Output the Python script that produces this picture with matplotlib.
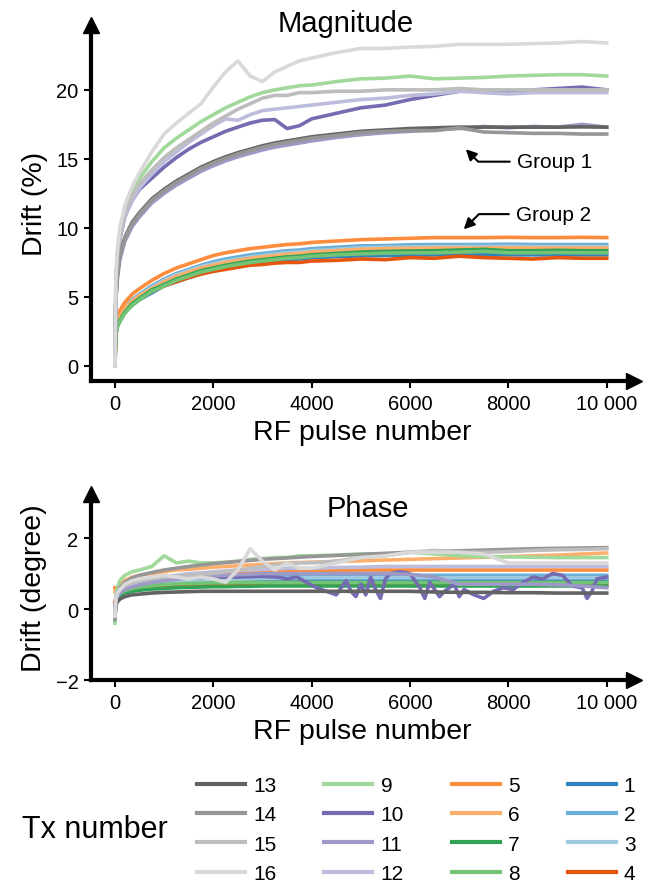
import matplotlib
matplotlib.use("Agg")
import matplotlib.pyplot as plt

plt.rcParams['font.family'] = ['Liberation Sans', 'DejaVu Sans']

pulse = [0, 20, 50, 100, 200, 350, 500, 750, 1000, 1250, 1500, 1750, 2000, 2250, 2500, 2750,
         3000, 3250, 3500, 3750, 4000, 4500, 5000, 5500, 6000, 6500, 7000, 7500, 8000, 8500,
         9000, 9500, 10000]

# magnitude drift (%)
mag_1 = [0, 2.3, 2.9, 3.3, 3.9, 4.4, 4.8, 5.3, 5.8, 6.1, 6.4, 6.7, 6.9, 7.1, 7.25, 7.4, 7.5, 7.6, 7.7,
         7.75, 7.85, 7.92, 7.98, 8.0, 8.02, 8.05, 8.05, 8.05, 8.05, 8.05, 8.05, 8.05, 8.05]
mag_2 = [0, 2.6, 3.2, 3.6, 4.2, 4.8, 5.2, 5.8, 6.3, 6.7, 7.0, 7.3, 7.55, 7.75, 7.9, 8.05, 8.15, 8.25,
         8.35, 8.4, 8.5, 8.6, 8.7, 8.72, 8.78, 8.8, 8.8, 8.8, 8.82, 8.8, 8.8, 8.8, 8.8]
mag_3 = [0, 2.5, 3.1, 3.5, 4.1, 4.7, 5.1, 5.7, 6.2, 6.6, 6.9, 7.2, 7.4, 7.6, 7.75, 7.9, 8.0, 8.1, 8.2,
         8.25, 8.35, 8.45, 8.55, 8.6, 8.62, 8.65, 8.65, 8.65, 8.67, 8.65, 8.65, 8.65, 8.65]
mag_4 = [0, 2.4, 3.0, 3.4, 4.0, 4.5, 4.9, 5.4, 5.8, 6.1, 6.4, 6.65, 6.85, 7.0, 7.15, 7.3, 7.35, 7.45,
         7.5, 7.5, 7.6, 7.65, 7.75, 7.7, 7.85, 7.8, 7.95, 7.85, 7.8, 7.75, 7.85, 7.8, 7.8]
mag_5 = [0, 2.9, 3.5, 4.0, 4.6, 5.2, 5.6, 6.2, 6.7, 7.1, 7.4, 7.7, 8.0, 8.2, 8.35, 8.5, 8.6, 8.7, 8.8,
         8.85, 8.95, 9.05, 9.15, 9.2, 9.25, 9.3, 9.3, 9.3, 9.32, 9.3, 9.3, 9.32, 9.3]
mag_6 = [0, 2.6, 3.2, 3.6, 4.2, 4.7, 5.1, 5.6, 6.1, 6.5, 6.8, 7.1, 7.3, 7.5, 7.65, 7.8, 7.9, 8.0, 8.1,
         8.15, 8.25, 8.35, 8.45, 8.5, 8.52, 8.55, 8.55, 8.55, 8.57, 8.55, 8.55, 8.55, 8.55]
mag_7 = [0, 2.3, 2.9, 3.3, 3.9, 4.5, 4.9, 5.5, 5.9, 6.3, 6.6, 6.9, 7.1, 7.3, 7.45, 7.6, 7.7, 7.8, 7.9,
         7.95, 8.05, 8.15, 8.25, 8.3, 8.33, 8.35, 8.4, 8.45, 8.35, 8.35, 8.38, 8.35, 8.35]
mag_8 = [0, 2.2, 2.8, 3.2, 3.8, 4.4, 4.8, 5.4, 5.8, 6.2, 6.5, 6.8, 7.0, 7.2, 7.35, 7.5, 7.6, 7.7, 7.8,
         7.85, 7.95, 8.05, 8.12, 8.17, 8.2, 8.2, 8.25, 8.3, 8.2, 8.2, 8.22, 8.2, 8.2]
mag_9 = [0, 6.2, 8.2, 9.6, 11.2, 12.6, 13.6, 14.8, 15.8, 16.5, 17.1, 17.7, 18.2, 18.7, 19.1, 19.5,
         19.8, 20.0, 20.15, 20.3, 20.35, 20.6, 20.8, 20.85, 21.0, 20.8, 20.85, 20.9, 21.0, 21.05, 21.1,
         21.1, 21.0]
mag_10 = [0, 5.8, 7.8, 9.2, 10.8, 12.0, 12.8, 13.6, 14.4, 15.1, 15.7, 16.2, 16.6, 17.0, 17.3, 17.6,
          17.8, 17.85, 17.2, 17.4, 17.9, 18.3, 18.7, 18.9, 19.3, 19.6, 19.9, 19.9, 19.9, 20.0, 20.1,
          20.2, 20.0]
mag_11 = [0, 4.8, 6.3, 7.7, 9.0, 10.1, 10.8, 11.8, 12.5, 13.1, 13.6, 14.1, 14.5, 14.85, 15.15, 15.4,
          15.65, 15.85, 16.0, 16.15, 16.3, 16.55, 16.75, 16.9, 17.0, 17.1, 17.2, 17.35, 17.25, 17.35,
          17.3, 17.5, 17.3]
mag_12 = [0, 5.8, 7.8, 9.2, 10.8, 12.0, 12.9, 13.9, 14.8, 15.5, 16.2, 16.8, 17.4, 17.9, 17.8, 18.2,
          18.5, 18.6, 18.7, 18.8, 18.9, 19.1, 19.3, 19.4, 19.6, 19.7, 19.9, 19.8, 19.7, 19.8, 19.8,
          19.8, 19.8]
mag_13 = [0, 5.0, 6.6, 8.0, 9.3, 10.4, 11.1, 12.1, 12.8, 13.4, 13.9, 14.4, 14.8, 15.15, 15.45, 15.7,
          15.95, 16.15, 16.3, 16.45, 16.6, 16.8, 17.0, 17.1, 17.2, 17.25, 17.3, 17.3, 17.3, 17.3, 17.3,
          17.32, 17.3]
mag_14 = [0, 5.0, 6.5, 7.9, 9.2, 10.3, 11.0, 12.0, 12.7, 13.3, 13.8, 14.3, 14.7, 15.05, 15.35, 15.6,
          15.85, 16.05, 16.2, 16.35, 16.5, 16.7, 16.9, 17.0, 17.05, 17.05, 17.25, 16.95, 16.9, 16.85,
          16.85, 16.8, 16.8]
mag_15 = [0, 6.0, 8.0, 9.4, 11.0, 12.3, 13.2, 14.2, 15.1, 15.8, 16.4, 17.0, 17.6, 18.1, 18.6, 19.0,
          19.4, 19.6, 19.6, 19.8, 19.8, 19.9, 19.9, 20.0, 20.0, 20.0, 20.1, 20.0, 20.0, 20.0, 20.0,
          20.0, 20.0]
mag_16 = [0, 6.5, 8.5, 10.0, 11.6, 13.0, 14.0, 15.5, 16.8, 17.6, 18.3, 19.0, 20.2, 21.3, 22.1, 21.0,
          20.6, 21.3, 21.7, 22.1, 22.3, 22.7, 23.0, 23.0, 23.1, 23.15, 23.3, 23.3, 23.3, 23.35, 23.4,
          23.5, 23.4]

# phase drift (degree)
ph_1 = [-0.1, 0.3, 0.4, 0.45, 0.52, 0.58, 0.62, 0.66, 0.7, 0.72, 0.74, 0.75, 0.76, 0.77, 0.78, 0.78,
        0.79, 0.79, 0.8, 0.8, 0.8, 0.8, 0.8, 0.8, 0.8, 0.8, 0.8, 0.8, 0.8, 0.8, 0.8, 0.8, 0.8]
ph_2 = [-0.1, 0.3, 0.42, 0.5, 0.58, 0.65, 0.7, 0.75, 0.8, 0.83, 0.85, 0.87, 0.88, 0.89, 0.9, 0.91,
        0.92, 0.92, 0.93, 0.93, 0.94, 0.94, 0.95, 0.95, 0.95, 0.95, 0.95, 0.95, 0.95, 0.95, 0.95, 0.95,
        0.95]
ph_3 = [-0.1, 0.3, 0.4, 0.48, 0.55, 0.62, 0.66, 0.7, 0.74, 0.76, 0.78, 0.8, 0.82, 0.83, 0.84, 0.85,
        0.86, 0.86, 0.87, 0.87, 0.88, 0.88, 0.88, 0.88, 0.88, 0.88, 0.88, 0.88, 0.88, 0.88, 0.88, 0.88,
        0.88]
ph_4 = [0.2, 0.3, 0.4, 0.5, 0.55, 0.6, 0.62, 0.65, 0.67, 0.68, 0.69, 0.7, 0.7, 0.7, 0.7, 0.7, 0.7, 0.7,
        0.7, 0.7, 0.7, 0.7, 0.7, 0.7, 0.7, 0.7, 0.7, 0.7, 0.7, 0.7, 0.7, 0.7, 0.7]
ph_5 = [0.6, 0.5, 0.55, 0.6, 0.65, 0.7, 0.75, 0.8, 0.85, 0.88, 0.9, 0.93, 0.95, 0.97, 1.0, 1.02, 1.03,
        1.05, 1.06, 1.07, 1.08, 1.09, 1.1, 1.1, 1.1, 1.1, 1.1, 1.1, 1.1, 1.1, 1.1, 1.1, 1.1]
ph_6 = [0.5, 0.5, 0.6, 0.7, 0.8, 0.9, 0.95, 1.0, 1.05, 1.1, 1.12, 1.15, 1.18, 1.2, 1.22, 1.24, 1.26,
        1.28, 1.3, 1.31, 1.32, 1.34, 1.36, 1.38, 1.4, 1.42, 1.44, 1.46, 1.48, 1.5, 1.52, 1.55, 1.58]
ph_7 = [-0.2, 0.2, 0.3, 0.38, 0.45, 0.5, 0.53, 0.56, 0.58, 0.6, 0.61, 0.62, 0.63, 0.63, 0.64, 0.64,
        0.65, 0.65, 0.65, 0.65, 0.65, 0.65, 0.65, 0.65, 0.65, 0.65, 0.65, 0.65, 0.65, 0.65, 0.65, 0.65,
        0.65]
ph_8 = [-0.3, 0.25, 0.35, 0.45, 0.52, 0.58, 0.62, 0.66, 0.69, 0.71, 0.72, 0.73, 0.74, 0.74, 0.75, 0.75,
        0.75, 0.75, 0.75, 0.75, 0.75, 0.75, 0.75, 0.75, 0.75, 0.75, 0.75, 0.75, 0.75, 0.75, 0.75, 0.75,
        0.75]
ph_9 = [-0.4, 0.4, 0.6, 0.8, 0.95, 1.05, 1.1, 1.2, 1.5, 1.3, 1.35, 1.3, 1.3, 1.32, 1.35, 1.4, 1.42,
        1.45, 1.45, 1.5, 1.5, 1.52, 1.55, 1.55, 1.6, 1.55, 1.5, 1.48, 1.47, 1.46, 1.45, 1.45, 1.45]
ph_11 = [-0.2, 0.2, 0.35, 0.45, 0.55, 0.62, 0.68, 0.75, 0.8, 0.84, 0.88, 0.9, 0.93, 0.95, 0.97, 0.98,
         1.0, 1.0, 1.0, 1.0, 1.0, 1.0, 1.0, 1.0, 0.98, 0.9, 0.7, 0.7, 0.7, 0.7, 0.68, 0.65, 0.6]
ph_12 = [-0.1, 0.3, 0.45, 0.55, 0.65, 0.72, 0.78, 0.85, 0.9, 0.95, 1.0, 1.02, 1.05, 1.08, 1.1, 1.1,
         1.12, 1.13, 1.15, 1.15, 1.15, 1.17, 1.18, 1.2, 1.2, 1.2, 1.2, 1.2, 1.2, 1.2, 1.2, 1.2, 1.2]
ph_13 = [-0.2, 0.1, 0.2, 0.28, 0.35, 0.4, 0.42, 0.45, 0.47, 0.48, 0.49, 0.5, 0.5, 0.5, 0.5, 0.5, 0.5,
         0.5, 0.5, 0.5, 0.5, 0.5, 0.5, 0.5, 0.5, 0.48, 0.47, 0.47, 0.46, 0.46, 0.45, 0.45, 0.45]
ph_14 = [-0.3, 0.3, 0.45, 0.6, 0.75, 0.88, 0.95, 1.03, 1.1, 1.15, 1.2, 1.24, 1.28, 1.31, 1.34, 1.37,
         1.4, 1.42, 1.44, 1.46, 1.48, 1.51, 1.54, 1.57, 1.6, 1.62, 1.64, 1.66, 1.68, 1.7, 1.71, 1.72,
         1.73]
ph_15 = [-0.2, 0.3, 0.45, 0.55, 0.65, 0.75, 0.8, 0.85, 0.9, 0.92, 0.95, 0.98, 1.0, 1.05, 1.1, 1.15,
         1.2, 1.25, 1.28, 1.3, 1.3, 1.35, 1.45, 1.5, 1.6, 1.65, 1.6, 1.6, 1.62, 1.65, 1.67, 1.68, 1.7]
ph_16 = [-0.2, 0.3, 0.45, 0.55, 0.7, 0.8, 0.85, 0.9, 0.95, 0.9, 0.85, 0.9, 0.85, 0.75, 1.1, 1.7, 1.35,
         1.1, 1.3, 1.15, 1.15, 1.3, 1.45, 1.5, 1.6, 1.6, 1.6, 1.55, 1.3, 1.3, 1.3, 1.3, 1.3]
# Tx 10 phase is much noisier, read on its own grid
pulse_ph10 = [0, 20, 50, 100, 200, 500, 1000, 1500, 2000, 2500, 3000, 3300, 3500, 3700, 3900, 4100,
              4300, 4500, 4700, 4800, 4900, 5000, 5100, 5200, 5300, 5400, 5500, 5600, 5800, 6000,
              6200, 6300, 6400, 6500, 6600, 6700, 6900, 7000, 7100, 7300, 7500, 7700, 7900, 8100,
              8300, 8500, 8700, 8900, 9100, 9300, 9500, 9600, 9700, 9800, 10000]
ph_10 = [-0.2, 0.3, 0.45, 0.55, 0.65, 0.75, 0.85, 0.88, 0.9, 0.9, 0.92, 0.9, 0.85, 0.9, 0.75, 0.6, 0.5,
         0.4, 0.8, 0.5, 0.35, 0.7, 0.4, 0.9, 0.55, 0.3, 0.85, 1.0, 1.05, 1.0, 0.6, 0.3, 0.75, 0.55, 0.35,
         0.5, 0.7, 0.35, 0.55, 0.4, 0.3, 0.5, 0.6, 0.55, 0.75, 0.9, 0.85, 1.0, 0.95, 0.65, 0.6, 0.3, 0.5,
         0.85, 0.9]

tx_ids = list(range(1, 17))
tx_colors = ['#3182bd', '#6baed6', '#9ecae1', '#e6550d', '#fd8d3c', '#fdae6b', '#31a354', '#74c476',
             '#a1d99b', '#756bb1', '#9e9ac8', '#bcbddc', '#636363', '#969696', '#bdbdbd', '#d9d9d9']
legend_order = [13, 14, 15, 16, 9, 10, 11, 12, 5, 6, 7, 8, 1, 2, 3, 4]

mag = [mag_1, mag_2, mag_3, mag_4, mag_5, mag_6, mag_7, mag_8, mag_9, mag_10, mag_11, mag_12,
       mag_13, mag_14, mag_15, mag_16]
ph = [ph_1, ph_2, ph_3, ph_4, ph_5, ph_6, ph_7, ph_8, ph_9, ph_10, ph_11, ph_12, ph_13, ph_14,
      ph_15, ph_16]

fig = plt.figure(figsize=(6.54, 8.87), dpi=100)
ax1 = fig.add_axes([0.139, 0.5693, 0.830, 0.4014])
ax2 = fig.add_axes([0.139, 0.2322, 0.830, 0.2097])

lines = {}
for i, tx in enumerate(tx_ids):
    ln, = ax1.plot(pulse, mag[i], color=tx_colors[i], lw=2.6)
    lines[tx] = ln
    xs = pulse_ph10 if tx == 10 else pulse
    ax2.plot(xs, ph[i], color=tx_colors[i], lw=2.6)


def style(ax, ylo, yhi, yticks):
    ax.set_xlim(-488, 10549)
    ax.set_ylim(ylo, yhi)
    for s in ['top', 'right']:
        ax.spines[s].set_visible(False)
    for s in ['left', 'bottom']:
        ax.spines[s].set_linewidth(3)
    ax.set_xticks([0, 2000, 4000, 6000, 8000, 10000])
    ax.set_xticklabels(['0', '2000', '4000', '6000', '8000', '10 000'])
    ax.set_yticks(yticks)
    ax.tick_params(direction='out', length=5, width=1.5, labelsize=14.5, pad=4)
    ax.plot(1, 0, '>k', ms=12, transform=ax.transAxes, clip_on=False)
    ax.plot(0, 1, '^k', ms=12, transform=ax.transAxes, clip_on=False)
    ax.set_xlabel('RF pulse number', fontsize=20.5, labelpad=5)


style(ax1, -1.09, 24.7, [0, 5, 10, 15, 20])
ax1.set_ylabel('Drift (%)', fontsize=20.5, labelpad=6)
fig.text(0.529, 0.9639, 'Magnitude', fontsize=21, ha='center', va='baseline')

style(ax2, -2, 3.24, [-2, 0, 2])
ax2.set_ylabel('Drift (degree)', fontsize=20.5, labelpad=6)
fig.text(0.563, 0.4171, 'Phase', fontsize=21, ha='center', va='baseline')

arrow = dict(arrowstyle='-|>', color='k', lw=1.5, mutation_scale=16, shrinkA=3, shrinkB=0)
ax1.annotate('Group 1', xy=(7134, 15.7), xytext=(8170, 14.8), fontsize=15, va='center',
             arrowprops=dict(connectionstyle='angle,angleA=180,angleB=135,rad=0', **arrow))
ax1.annotate('Group 2', xy=(7093, 9.9), xytext=(8150, 11.0), fontsize=15, va='center',
             arrowprops=dict(connectionstyle='angle,angleA=180,angleB=45,rad=0', **arrow))

fig.legend([lines[t] for t in legend_order], [str(t) for t in legend_order], ncol=4,
           loc='center left', bbox_to_anchor=(0.301, 0.0637), frameon=False, fontsize=15,
           handlelength=2.3, handletextpad=0.4, columnspacing=2.3, labelspacing=0.5,
           borderpad=0, borderaxespad=0, handleheight=0.7)
for leg_line in fig.legends[0].get_lines():
    leg_line.set_linewidth(3)
fig.text(0.034, 0.0637, 'Tx number', fontsize=22, va='center', ha='left')

fig.savefig('out.png', dpi=100)
